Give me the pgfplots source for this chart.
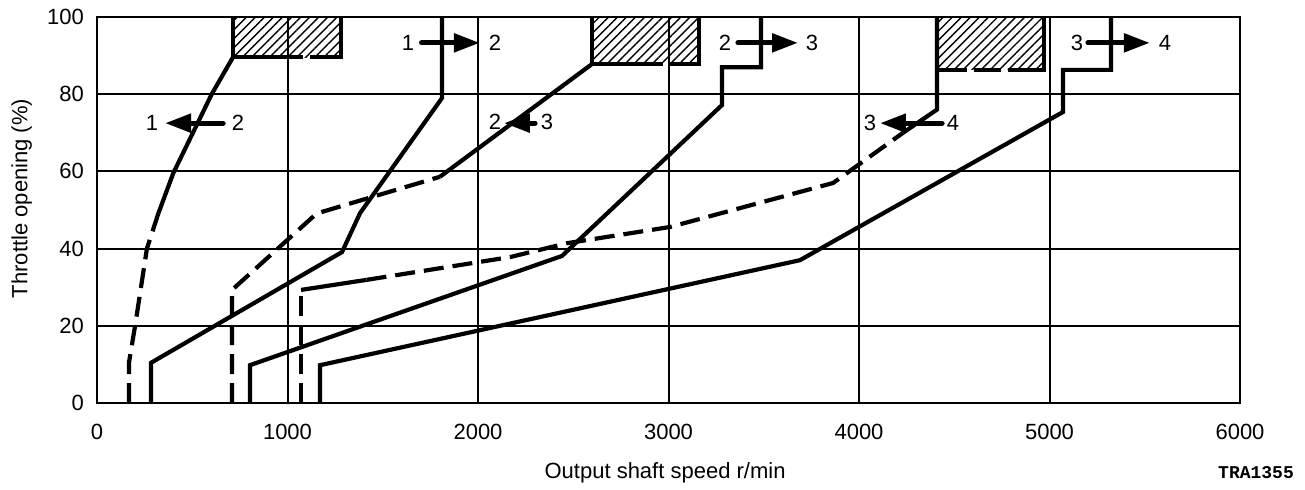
\documentclass[border=0pt]{standalone}
\usepackage{pgfplots}
\pgfplotsset{compat=1.18}
\usepackage{fontspec}
\setmainfont{Liberation Sans}
\newfontfamily\codefont{Liberation Mono}
\usetikzlibrary{patterns.meta,arrows.meta}
\tikzset{
  dsh/.style={dash pattern=on 10pt off 4.5pt},
  arr/.style={line width=2.6pt, line cap=round, -{Triangle[length=13pt,width=9pt]}},
  hatch/.style={draw=none, pattern={Lines[angle=45,distance=3.2pt,line width=0.7pt]}},
  num/.style={font=\fontsize{11}{13}\selectfont},
}

\begin{document}
\begin{tikzpicture}
\begin{axis}[
  scale only axis, width=571.5pt, height=193pt,
  xmin=0, xmax=6000, ymin=0, ymax=100,
  xtick={0,1000,...,6000}, ytick={0,20,...,100},
  major tick length=0pt,
  grid=major, grid style={black, line width=1pt},
  axis line style={line width=1.3pt},
  /pgf/number format/1000 sep={},
  /pgf/number format/assume math mode=true,
  ticklabel style={font=\fontsize{11}{13}\selectfont},
  xticklabel style={yshift=-7pt},
  yticklabel style={xshift=-3pt},
  label style={font=\fontsize{11}{13}\selectfont},
  xlabel={Output shaft speed r/min},
  ylabel={Throttle opening (\%)},
  xlabel style={at={(axis description cs:0.497,-0.181)}, anchor=center},
  ylabel style={at={(axis description cs:-0.066,0.53)}, anchor=center},
  cycle list={{black}},
  no markers,
  every axis plot/.append style={black, line width=2.1pt},
]
% hatched full-throttle zones
\addplot[hatch] coordinates {(714,89.6) (1281,89.6) (1281,100) (714,100)} -- cycle;
\addplot[hatch] coordinates {(2598,87.8) (3160,87.8) (3160,100) (2598,100)} -- cycle;
\addplot[hatch] coordinates {(4409,86.3) (4971,86.3) (4971,100) (4409,100)} -- cycle;
\addplot coordinates {(714,100) (714,89.6) (1081,89.6)};
\addplot coordinates {(1118,89.6) (1281,89.6) (1281,100)};
\addplot coordinates {(2598,100) (2598,87.8) (2971,87.8)};
\addplot coordinates {(3008,87.8) (3160,87.8) (3160,100)};
\addplot coordinates {(4409,86.3) (4567,86.3)};
\addplot coordinates {(4604,86.3) (4745,86.3)};
\addplot coordinates {(4782,86.3) (4971,86.3) (4971,100)};

% 1-2 upshift
\addplot coordinates {(283,0) (283,10.4) (1286,39.1) (1381,49.2) (1811,79) (1811,100)};
% 2-1 downshift
\addplot[dsh] coordinates {(168,0) (168,10.5) (200,20) (262,40) (322,49.1)};
\addplot coordinates {(322,49.1) (400,59.5) (602,80) (714,89.6)};

% 2-3 upshift
\addplot coordinates {(803,0) (803,9.8) (2441,38.1) (3281,77.2) (3281,87) (3486,87) (3486,100)};
% 3-2 downshift
\addplot[dsh] coordinates {(709,0) (709,29.3) (1153,49.1) (1800,58.6)};
\addplot coordinates {(1800,58.6) (2598,87.8)};

% 3-4 upshift
\addplot coordinates {(1171,0) (1171,9.8) (3690,37) (5071,75.4) (5071,86.3) (5323,86.3) (5323,100)};
% 4-3 downshift
\addplot[dsh] coordinates {(1071,0) (1071,29.3)};
\addplot coordinates {(1071,29.3) (1415,31.9)};
\addplot[dsh] coordinates {(1415,31.9) (2168,37.8) (2467,41.4) (3008,45.6) (3864,57) (4231,70)};
\addplot coordinates {(4231,70) (4409,76) (4409,100)};

% shift arrows
\addplot[arr] coordinates {(1704,93.3) (2010,93.3)};
\addplot[arr] coordinates {(662,72.5) (357,72.5)};
\addplot[arr] coordinates {(3365,93.3) (3680,93.3)};
\addplot[arr] coordinates {(2299,72.5) (2136,72.5)};
\addplot[arr] coordinates {(5202,93.3) (5527,93.3)};
\addplot[arr] coordinates {(4436,72.5) (4110,72.5)};

\node[num] at (axis cs:1633,93.3) {1};
\node[num] at (axis cs:2089,93.3) {2};
\node[num] at (axis cs:289,72.5) {1};
\node[num] at (axis cs:740,72.5) {2};
\node[num] at (axis cs:3297,93.3) {2};
\node[num] at (axis cs:3753,93.3) {3};
\node[num] at (axis cs:2089,72.8) {2};
\node[num] at (axis cs:2362,72.8) {3};
\node[num] at (axis cs:5144,93.3) {3};
\node[num] at (axis cs:5606,93.3) {4};
\node[num] at (axis cs:4058,72.5) {3};
\node[num] at (axis cs:4493,72.5) {4};
\end{axis}
\node[font=\codefont\bfseries\fontsize{9}{10}\selectfont] at ([xshift=8pt,yshift=-35pt]current axis.south east) {TRA1355};
\path ([shift={(-48.5pt,-42.5pt)}]current axis.south west) rectangle ([shift={(32.5pt,8.5pt)}]current axis.north east);
\end{tikzpicture}
\end{document}
